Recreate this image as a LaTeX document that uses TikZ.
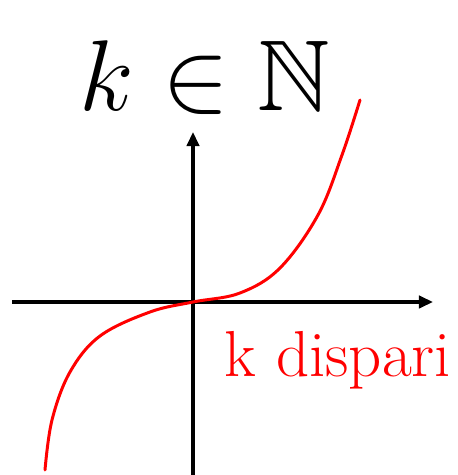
\documentclass[tikz,border=0pt]{standalone}
\usepackage{amssymb}
\usetikzlibrary{arrows.meta}

\begin{document}
\begin{tikzpicture}[
  >={Triangle[length=8pt,width=7pt]},
  axis/.style={line width=1.8pt,->},
  curve/.style={red,line width=1.7pt,line cap=round,line join=round},
  title/.style={font=\Huge,scale=2.3},
  note/.style={red,font=\fontsize{37}{37}\selectfont}
]
\useasboundingbox (0,0) rectangle (9.14,9.5);

\coordinate (o) at (3.86,3.46);
\coordinate (xl) at (0.24,3.46);
\coordinate (xr) at (8.66,3.46);
\coordinate (yb) at (3.86,0);
\coordinate (yt) at (3.86,6.86);

\draw[axis] (xl) -- (xr);
\draw[axis] (yb) -- (yt);

% odd power
\draw[curve] plot[smooth,tension=0.6] coordinates {
  (0.9,0.1) (1.04,1.1) (1.4,2.06) (2.0,2.78) (3.0,3.26) (o)
  (4.8,3.64) (5.6,4.14) (6.36,5.2) (6.84,6.4) (7.2,7.5)};

\node[title] (kn) at (4.1,7.95) {$k\in\mathbb{N}$};
\node[note] (odd) at (6.76,2.3) {k dispari};
\end{tikzpicture}
\end{document}
